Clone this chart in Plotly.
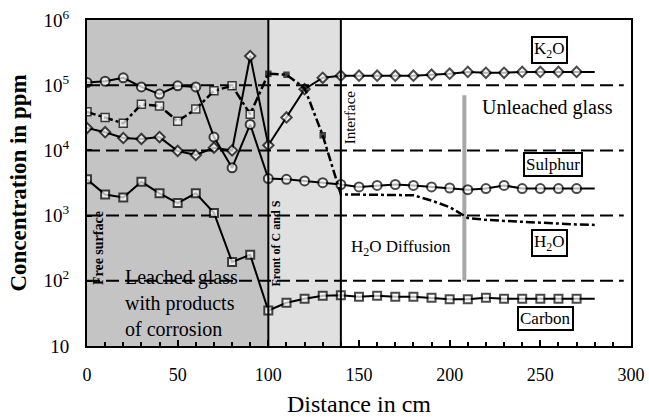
import plotly.graph_objects as go
import math

# ---------------- data ----------------
x_all = list(range(0, 290, 10))  # 0..280

k2o = [2.2e4, 1.9e4, 1.55e4, 1.5e4, 1.6e4, 9.8e3, 8.5e3, 1.1e4, 1.0e4, 2.8e5,
       1.2e4, 3.2e4, 8.7e4, 1.3e5, 1.4e5,
       1.4e5, 1.4e5, 1.4e5, 1.4e5, 1.45e5, 1.5e5, 1.6e5, 1.55e5, 1.55e5, 1.6e5,
       1.6e5, 1.6e5, 1.6e5, 1.6e5]

sulphur = [1.1e5, 1.15e5, 1.3e5, 9.4e4, 7.3e4, 9.8e4, 9.4e4, 1.6e4, 5.4e3, 2.5e4,
           3.7e3, 3.6e3, 3.4e3, 3.2e3, 3.0e3,
           2.75e3, 2.9e3, 3.0e3, 2.9e3, 2.75e3, 2.65e3, 2.5e3, 2.6e3, 2.9e3, 2.6e3,
           2.6e3, 2.6e3, 2.6e3, 2.6e3]

carbon = [3.6e3, 2.1e3, 1.9e3, 3.3e3, 2.2e3, 1.56e3, 2.2e3, 1.1e3, 195, 250,
          35, 46, 53, 59, 60,
          57, 59, 57, 57, 55, 52, 52, 55, 53, 53,
          53, 53, 53, 53]

x_h2o = [0, 10, 20, 30, 40, 50, 60, 70, 80, 90, 100, 110, 120, 130, 140,
         150, 160, 170, 180, 190, 200, 210, 220, 230, 240, 250, 260, 270, 280]
h2o = [3.9e4, 3.2e4, 2.6e4, 5.1e4, 4.8e4, 2.8e4, 4.3e4, 8.2e4, 9.8e4, 3.6e4,
       1.5e5, 1.45e5, 9.0e4, 1.7e4, 2.1e3,
       2.1e3, 2.1e3, 2.1e3, 2.05e3, 1.7e3, 1.35e3, 9.2e2, 8.6e2, 8.3e2, 8.0e2,
       7.8e2, 7.5e2, 7.3e2, 7.2e2]

ref_levels = [1e2, 1e3, 1e4, 1e5]
ytick_vals = [10, 100, 1000, 1e4, 1e5, 1e6]
ytick_text = ["10", "10<sup>2</sup>", "10<sup>3</sup>", "10<sup>4</sup>",
              "10<sup>5</sup>", "10<sup>6</sup>"]
xtick_vals = [0, 50, 100, 150, 200, 250, 300]

FONT = "Liberation Serif"

fig = go.Figure()

# reference dashed lines
for lv in ref_levels:
    fig.add_trace(go.Scatter(x=[0, 296], y=[lv, lv], mode="lines",
                             line=dict(color="black", width=2, dash="13px,6px"),
                             hoverinfo="skip", showlegend=False))


def sizes(n_marked, size):
    return [size] * n_marked + [0] * (len(x_all) - n_marked)


# K2O diamonds
fig.add_trace(go.Scatter(x=x_all, y=k2o, mode="lines+markers",
                         line=dict(color="black", width=2),
                         marker=dict(symbol="diamond", size=sizes(28, 8), color="white",
                                     line=dict(color="black", width=2)),
                         showlegend=False))
# Sulphur circles
fig.add_trace(go.Scatter(x=x_all, y=sulphur, mode="lines+markers",
                         line=dict(color="black", width=2),
                         marker=dict(symbol="circle", size=sizes(28, 9), color="white",
                                     line=dict(color="black", width=2)),
                         showlegend=False))
# Carbon squares
fig.add_trace(go.Scatter(x=x_all, y=carbon, mode="lines+markers",
                         line=dict(color="black", width=2),
                         marker=dict(symbol="square", size=sizes(28, 8), color="white",
                                     line=dict(color="black", width=2)),
                         showlegend=False))
# H2O dash-dot
h_size = [8] * 10 + [5] * 4 + [0] * (len(x_h2o) - 14)
h_col = ["white"] * 10 + ["black"] * 4 + ["black"] * (len(x_h2o) - 14)
fig.add_trace(go.Scatter(x=x_h2o, y=h2o, mode="lines+markers",
                         line=dict(color="black", width=2.5, dash="dashdot"),
                         marker=dict(symbol="square", size=h_size, color=h_col,
                                     line=dict(color="black", width=1.5)),
                         showlegend=False))

shapes = [
    dict(type="rect", xref="x", yref="y domain", x0=0, x1=100, y0=0, y1=1,
         fillcolor="#c4c4c4", line=dict(width=0), layer="below"),
    dict(type="rect", xref="x", yref="y domain", x0=100, x1=140, y0=0, y1=1,
         fillcolor="#e0e0e0", line=dict(width=0), layer="below"),
    dict(type="line", xref="x", yref="y domain", x0=100, x1=100, y0=0, y1=1,
         line=dict(color="black", width=2)),
    dict(type="line", xref="x", yref="y domain", x0=140, x1=140, y0=0, y1=1,
         line=dict(color="black", width=2)),
    dict(type="rect", xref="x", yref="y", x0=207, x1=209.2, y0=100, y1=7e4,
         fillcolor="#a8a8a8", line=dict(width=0), layer="below"),
]

ann_font = dict(family=FONT, size=17, color="black")
box = dict(bordercolor="black", borderwidth=2, borderpad=1, bgcolor="white")
annotations = [
    dict(x=255, y=math.log10(3.5e5), text="K<sub>2</sub>O", **box),
    dict(x=257, y=math.log10(6.0e3), text="Sulphur", **box),
    dict(x=255, y=math.log10(3.8e2), text="H<sub>2</sub>O", **box),
    dict(x=253, y=math.log10(26), text="Carbon", **box),
    dict(x=254, y=math.log10(4.5e4), text="Unleached glass", font=dict(family=FONT, size=20)),
    dict(x=173, y=math.log10(3.2e2), text="H<sub>2</sub>O Diffusion", font=dict(family=FONT, size=17)),
    dict(x=20, y=math.log10(45), text="Leached glass<br>with products<br>of corrosion",
         xanchor="left", align="left", font=dict(family=FONT, size=20)),
    dict(x=6, y=math.log10(316), text="<b>Free surface</b>", textangle=-90,
         font=dict(family=FONT, size=14)),
    dict(x=104.5, y=math.log10(380), text="<b>Front of C and S</b>", textangle=-90,
         font=dict(family=FONT, size=12)),
    dict(x=145.5, y=math.log10(3.2e4), text="Interface", textangle=-90,
         font=dict(family=FONT, size=15)),
]
for a in annotations:
    a.setdefault("font", ann_font)
    a.update(xref="x", yref="y", showarrow=False)

fig.update_layout(
    width=649, height=420,
    margin=dict(l=87, r=18, t=20, b=74),
    paper_bgcolor="white", plot_bgcolor="white",
    font=dict(family=FONT, color="black"),
    shapes=shapes, annotations=annotations,
    showlegend=False,
)
fig.update_xaxes(range=[0, 300], tickvals=xtick_vals, showgrid=False, zeroline=False,
                 automargin=False, ticklabeloverflow="allow",
                 showline=True, linecolor="black", linewidth=2, mirror=True,
                 ticks="inside", ticklen=6, tickwidth=2, tickcolor="black",
                 minor=dict(ticks="inside", dtick=10, ticklen=4, tickwidth=1.5, tickcolor="black"),
                 tickfont=dict(family=FONT, size=18), ticklabelstandoff=11,
                 title=dict(text="Distance in cm", font=dict(family=FONT, size=24), standoff=12))
fig.update_yaxes(type="log", range=[1, 6], tickvals=ytick_vals, ticktext=ytick_text,
                 showgrid=False, zeroline=False, automargin=False, ticklabeloverflow="allow",
                 showline=True, linecolor="black", linewidth=2, mirror=True,
                 ticks="inside", ticklen=5, tickwidth=2, tickcolor="black",
                 tickfont=dict(family=FONT, size=19), ticklabelstandoff=12,
                 title=dict(text="<b>Concentration in ppm</b>", font=dict(family=FONT, size=23), standoff=10))

fig.write_html("out.html", config={"displayModeBar": False},
               post_script="document.body.style.margin='0';")
